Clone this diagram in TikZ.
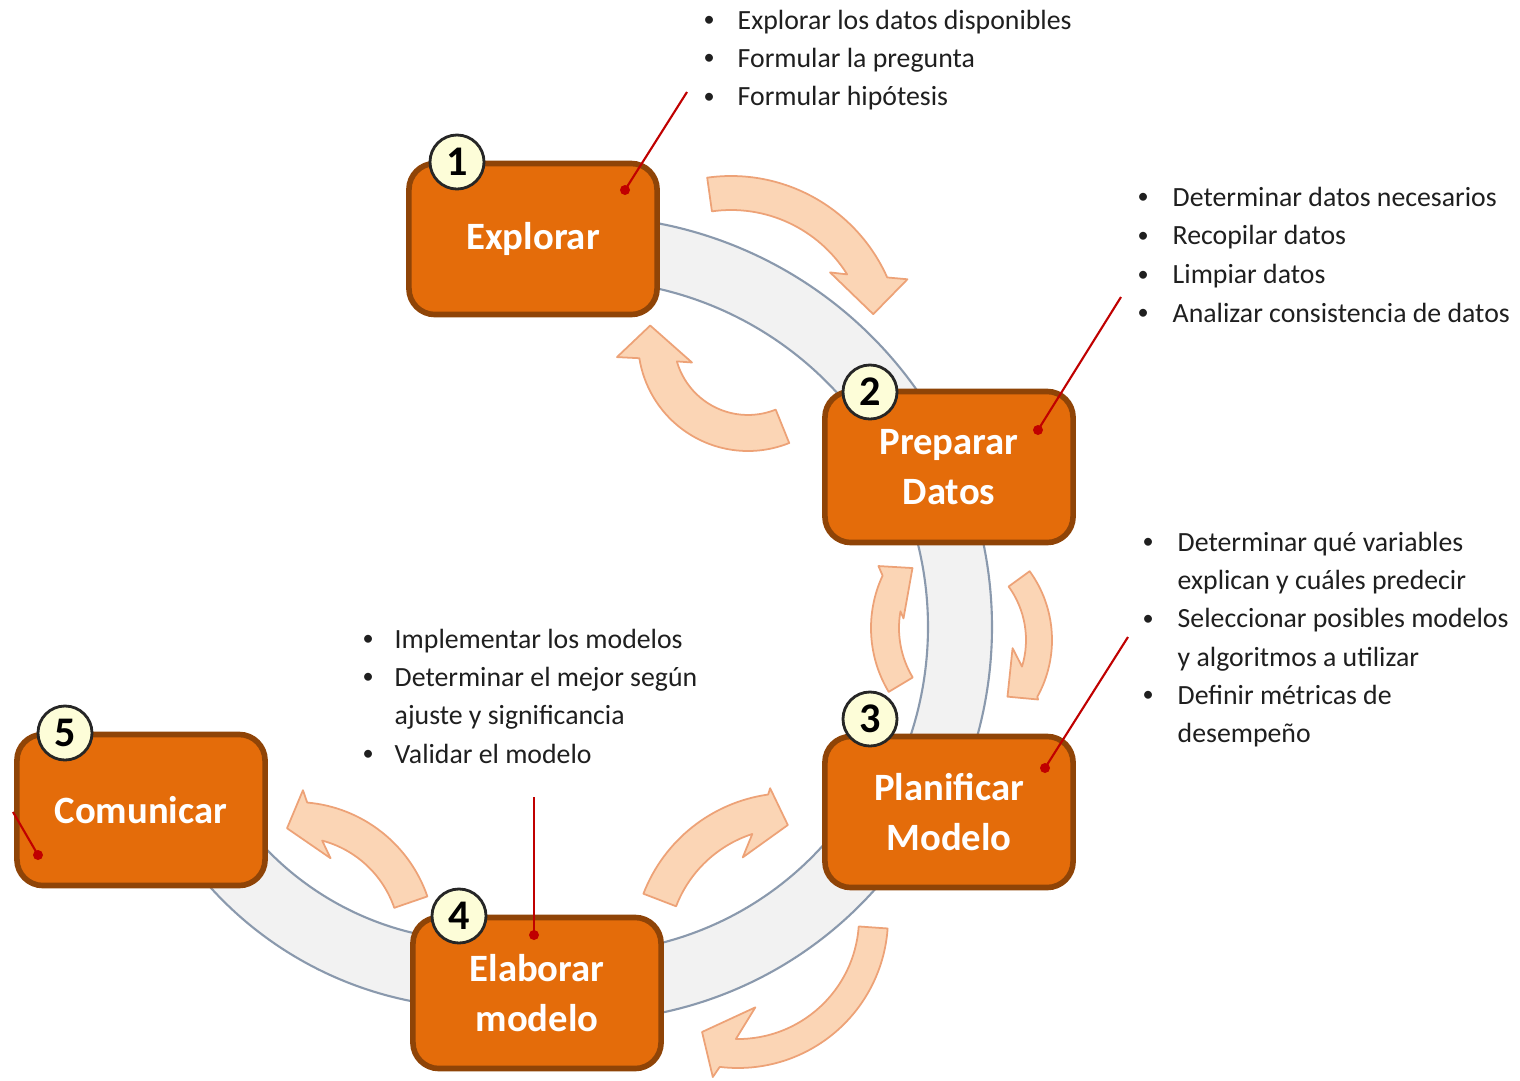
\documentclass[tikz,border=0pt]{standalone}
\usepackage{fontspec}
\setmainfont{Carlito}
\usepackage{array}
\definecolor{boxfill}{HTML}{E46C0A}
\definecolor{boxedge}{HTML}{8F4407}
\definecolor{numfill}{HTML}{FDFDD8}
\definecolor{numedge}{HTML}{262626}
\definecolor{ringfill}{HTML}{F2F2F2}
\definecolor{ringline}{HTML}{8A99AD}
\definecolor{arrowfill}{HTML}{FBD5B5}
\definecolor{arrowline}{HTML}{EDA277}
\definecolor{leadred}{HTML}{C00000}
\definecolor{textc}{HTML}{1F1F1F}
\newcommand\carw[9]{\filldraw[carrowsty,shift={(#1)}] (#4:#2) arc[start angle=#4,end angle=#5,radius=#2] -- (#7) -- (#8) -- (#9) -- (#6:#3) arc[start angle=#6,end angle=#4,radius=#3] -- cycle;}
\newcommand\ringseg[6]{\filldraw[ringband,shift={(#1)}] (#4:#2) arc[start angle=#4,end angle=#5,radius=#2] -- (#5:#3) arc[start angle=#5,end angle=#4,radius=#3] -- cycle;}
\newcommand\bul{\raisebox{0.2ex}{\scalebox{0.8}{•}}}
\begin{document}
\begin{tikzpicture}[x=0.01cm,y=0.01cm,
  box/.style={draw=boxedge, line width=1.6pt, fill=boxfill, rounded corners=0.26cm, minimum width=2.48cm, minimum height=1.51cm, text=white, font=\fontsize{11}{14}\selectfont\bfseries, align=center, inner sep=0pt},
  numc/.style={circle, draw=numedge, line width=0.8pt, fill=numfill, minimum size=0.54cm, inner sep=0pt, font=\fontsize{12}{12}\selectfont\bfseries},
  ringband/.style={fill=ringfill, draw=ringline, line width=0.6pt},
  carrowsty/.style={fill=arrowfill, draw=arrowline, line width=0.5pt, line join=round},
  redline/.style={draw=leadred, line width=0.6pt},
  leaddot/.style={circle, fill=leadred, minimum size=0.1cm, inner sep=0pt},
  blist/.style={anchor=base west, inner sep=0pt, font=\fontsize{7.9}{10.9}\selectfont, text=textc}
]
\useasboundingbox[fill=white] (0,0) rectangle (1520,-1081);

% grey ring segments (ends hidden under the boxes)
\ringseg{581,-627}{411}{347}{82}{33}{}
\ringseg{581,-627}{411}{347}{20}{-20}{}
\ringseg{581,-627}{394}{326}{-40}{-80}{}
\ringseg{482,-642}{366}{299}{219}{262}{}

% curved arrows
\carw{731,-347}{171}{137}{98}{24}{32}{21:189}{13:146}{37:124}
\carw{748,-341}{110}{74}{-68}{-171}{-164}{-173:132}{-189:99}{-159:60}
\carw{995,-628}{124}{96}{211}{155}{170}{152:132}{144:102}{174:92}
\carw{935,-640}{117}{91}{36}{-29}{-17}{-30:119}{-38:92}{-6:78}
\carw{790,-950}{157}{122}{159}{98}{108}{97:163}{91:125}{117:104}
\carw{738,-918}{150}{121}{-4}{-97}{-91}{-99:161}{-107.5:119.5}{-79:91}
\carw{295,-942}{140}{105}{19}{85}{75}{87:152}{94:114}{67:91}

% boxes
\node[box] (b1) at (533,-239) {Explorar};
\node[box] (b2) at (949,-467) {Preparar\\Datos};
\node[box] (b3) at (949,-812) {Planificar\\Modelo};
\node[box] (b4) at (537,-993) {Elaborar\\modelo};
\node[box] (b5) at (141,-810) {Comunicar};

% number circles
\node[numc] (n1) at (457,-162) {1};
\node[numc] (n2) at (870,-392) {2};
\node[numc] (n3) at (870,-719) {3};
\node[numc] (n4) at (459,-916) {4};
\node[numc] (n5) at (65,-733) {5};

% lead lines
\node[leaddot] (d1) at (625,-190) {};
\node[leaddot] (d2) at (1038,-430) {};
\node[leaddot] (d3) at (1045,-768) {};
\node[leaddot] (d4) at (534,-935) {};
\node[leaddot] (d5) at (38,-855) {};
\coordinate (e1) at (687,-92);
\coordinate (e2) at (1121,-297);
\coordinate (e3) at (1128,-637);
\coordinate (e4) at (534,-797);
\coordinate (e5) at (13,-812);
\draw[redline] (e1) -- (d1.center);
\draw[redline] (e2) -- (d2.center);
\draw[redline] (e3) -- (d3.center);
\draw[redline] (e4) -- (d4.center);
\draw[redline] (e5) -- (d5.center);

% bullet lists
\node[blist] (t1) at (703,-29) {\begin{tabular}[t]{@{}p{0.34cm}@{}l@{}}\bul&Explorar los datos disponibles\\ \bul&Formular la pregunta\\ \bul&Formular hipótesis\end{tabular}};
\node[blist] (t2) at (1137,-206) {\begin{tabular}[t]{@{}p{0.35cm}@{}l@{}}\bul&Determinar datos necesarios\\[0.15pt] \bul&Recopilar datos\\[0.15pt] \bul&Limpiar datos\\[0.15pt] \bul&Analizar consistencia de datos\end{tabular}};
\node[blist] (t3) at (1142,-551) {\begin{tabular}[t]{@{}p{0.35cm}@{}l@{}}\bul&Determinar qué variables\\ &explican y cuáles predecir\\ \bul&Seleccionar posibles modelos\\ &y algoritmos a utilizar\\ \bul&Definir métricas de\\ &desempeño\end{tabular}};
\node[blist] (t4) at (362,-648) {\begin{tabular}[t]{@{}p{0.32cm}@{}l@{}}\bul&Implementar los modelos\\ \bul&Determinar el mejor según\\ &ajuste y significancia\\ \bul&Validar el modelo\end{tabular}};
\end{tikzpicture}
\end{document}
